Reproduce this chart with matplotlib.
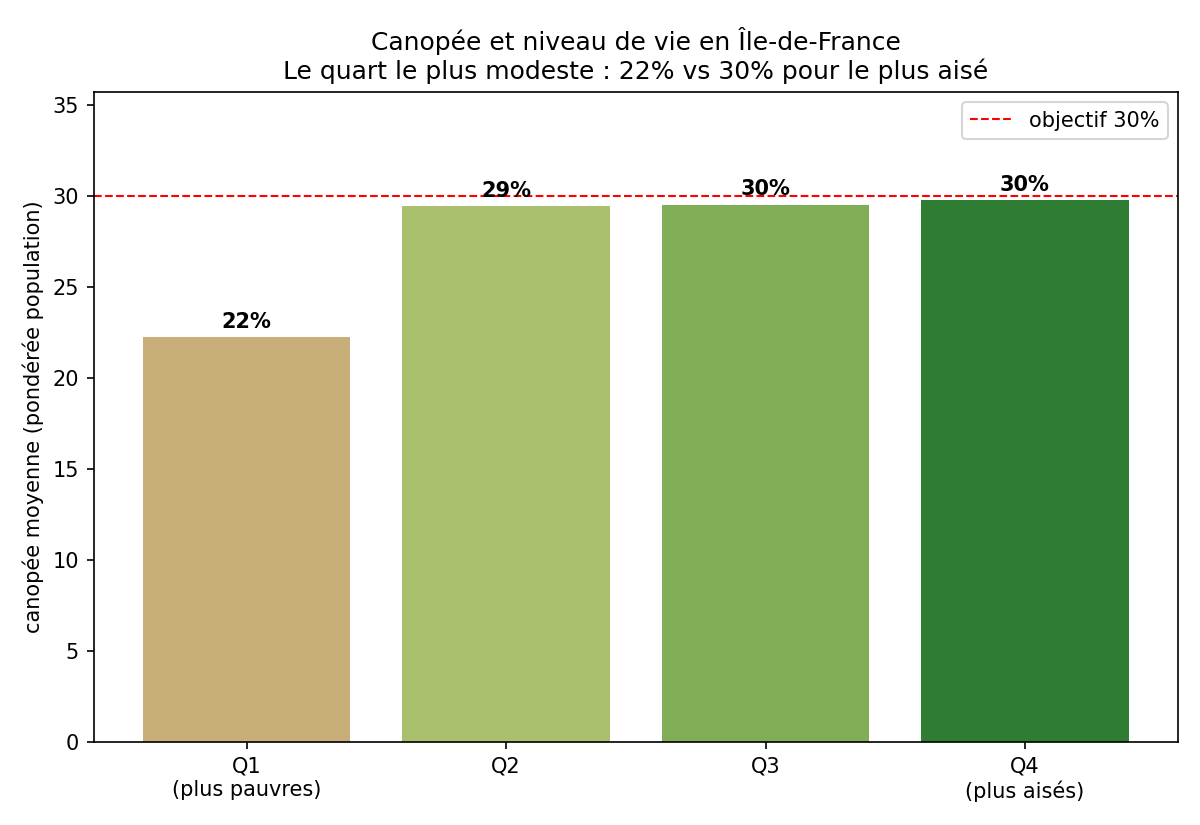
import matplotlib
matplotlib.use("Agg")
import matplotlib.pyplot as plt

quartiles = ["Q1\n(plus pauvres)", "Q2", "Q3", "Q4\n(plus aisés)"]
canopee = [22.24, 29.45, 29.55, 29.78]
couleurs = ["#c8af7a", "#a9bf6e", "#80ad55", "#2e7d32"]
objectif = 30

fig, ax = plt.subplots(figsize=(8, 5.5), dpi=150)
bars = ax.bar(quartiles, canopee, color=couleurs, width=0.8)
ax.axhline(objectif, color="red", linestyle="--", linewidth=1, label="objectif 30%")

for b, v in zip(bars, canopee):
    ax.text(b.get_x() + b.get_width() / 2, v + 0.3, f"{v:.0f}%",
            ha="center", va="bottom", fontweight="bold")

ax.set_ylim(0, max(canopee) * 1.2)
ax.set_ylabel("canopée moyenne (pondérée population)")
ax.set_title("Canopée et niveau de vie en Île-de-France\n"
             "Le quart le plus modeste : 22% vs 30% pour le plus aisé")
ax.legend(loc="upper right")

fig.subplots_adjust(left=0.078, right=0.9817, top=0.8885, bottom=0.1006)
fig.savefig("out.png", dpi=150)
